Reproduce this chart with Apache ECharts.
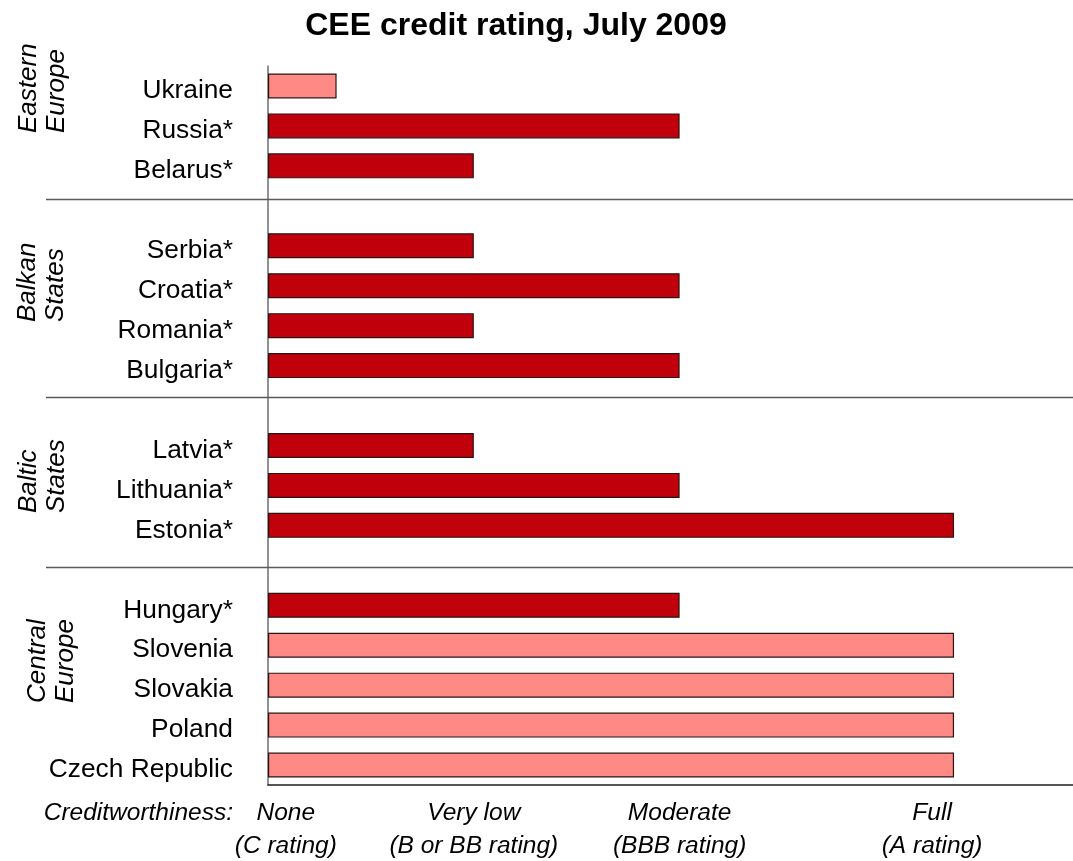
<!DOCTYPE html>
<html>
<head>
<meta charset="utf-8">
<title>CEE credit rating, July 2009</title>
<script src="https://cdn.jsdelivr.net/npm/echarts@6/dist/echarts.min.js"></script>
<style>
  html, body { margin: 0; padding: 0; background: #ffffff; }
  #chart { width: 1073px; height: 861px; }
</style>
</head>
<body>
<div id="chart"></div>
<script>
// Countries per region, top to bottom, with their rating level
// (0 = none, 1.5 = very low, 3 = moderate, 5 = full). "*" marks a
// country whose rating is below full investment grade.
const easternEurope = ['Ukraine', 'Russia*', 'Belarus*'];
const easternRating = [0.5, 3, 1.5];
const balkanStates = ['Serbia*', 'Croatia*', 'Romania*', 'Bulgaria*'];
const balkanRating = [1.5, 3, 1.5, 3];
const balticStates = ['Latvia*', 'Lithuania*', 'Estonia*'];
const balticRating = [1.5, 3, 5];
const centralEurope = ['Hungary*', 'Slovenia', 'Slovakia', 'Poland', 'Czech Republic'];
const centralRating = [3, 5, 5, 5, 5];

const regionNames = ['Eastern\nEurope', 'Balkan\nStates', 'Baltic\nStates', 'Central\nEurope'];

// Creditworthiness scale labels and where they sit on the value axis
const ratingLabels = ['None\n(C rating)', 'Very low\n(B or BB rating)', 'Moderate\n(BBB rating)', 'Full\n(A rating)'];
const ratingLabelAt = [0.13, 1.5, 3, 4.84];

const FONT = '"Liberation Sans", Arial, Helvetica, sans-serif';
const DARK_RED = '#C0000B';
const PINK = '#FF8A85';

// Build the category list with one empty row between regions
const regionCountries = [easternEurope, balkanStates, balticStates, centralEurope];
const regionRatings = [easternRating, balkanRating, balticRating, centralRating];
const categories = [];
const barData = [];
regionCountries.forEach(function (names, r) {
  if (r > 0) {
    categories.push(' '.repeat(r));
    barData.push('-');
  }
  names.forEach(function (name, i) {
    categories.push(name);
    barData.push({
      value: regionRatings[r][i],
      itemStyle: { color: name.indexOf('*') >= 0 ? DARK_RED : PINK }
    });
  });
});

const chart = echarts.init(document.getElementById('chart'), null, { renderer: 'canvas' });

chart.setOption({
  animation: false,
  backgroundColor: '#ffffff',
  title: {
    text: 'CEE credit rating, July 2009',
    left: 511,
    textAlign: 'center',
    top: 5,
    textStyle: { fontFamily: FONT, fontSize: 32, fontWeight: 'bold', color: '#000' }
  },
  grid: { left: 268, right: 0, top: 66, bottom: 76, containLabel: false, outerBoundsMode: 'none' },
  xAxis: {
    type: 'value',
    min: 0,
    max: 5.867,
    splitLine: { show: false },
    axisTick: { show: false },
    axisLine: { show: true, lineStyle: { color: '#1e1e1e', width: 1.5 } },
    axisLabel: {
      customValues: ratingLabelAt,
      formatter: function (v) {
        const i = ratingLabelAt.indexOf(v);
        return i >= 0 ? ratingLabels[i] : '';
      },
      fontFamily: FONT,
      fontSize: 24.5,
      fontStyle: 'italic',
      color: '#000',
      lineHeight: 33,
      margin: 12,
      align: 'center'
    }
  },
  yAxis: {
    type: 'category',
    inverse: true,
    data: categories,
    axisTick: { show: false },
    axisLine: { show: true, lineStyle: { color: '#6e6e6e', width: 1.5 } },
    axisLabel: {
      margin: 35,
      formatter: function (v) { return '{n|' + v + '}'; },
      rich: {
        n: {
          fontFamily: FONT,
          fontSize: 26.3,
          color: '#000',
          padding: [10, 0, 0, 0]
        }
      }
    }
  },
  series: [{
    type: 'bar',
    data: barData,
    barWidth: 25,
    itemStyle: { borderColor: '#2b1414', borderWidth: 1.2 }
  }]
});

// Region dividers (in row units from the top of the plot), region titles
// and the scale caption are drawn relative to the category axis.
const dividerRows = [3.34, 8.28, 12.54];
const regionTitleAt = [[43, 133], [42, 322], [43, 513], [52, 703]];

const c0 = chart.convertToPixel({ yAxisIndex: 0 }, categories[0]);
const c1 = chart.convertToPixel({ yAxisIndex: 0 }, categories[1]);
const step = c1 - c0;
const plotTop = c0 - step / 2;
const lastRow = chart.convertToPixel({ yAxisIndex: 0 }, categories[categories.length - 1]);

const graphics = [];
dividerRows.forEach(function (r) {
  const y = Math.round(plotTop + r * step) + 0.5;
  graphics.push({
    type: 'line',
    shape: { x1: 46, y1: y, x2: 1073, y2: y },
    style: { stroke: '#5a5a5a', lineWidth: 1.5 },
    z: 1
  });
});
regionNames.forEach(function (name, i) {
  graphics.push({
    type: 'text',
    x: regionTitleAt[i][0],
    y: regionTitleAt[i][1],
    rotation: Math.PI / 2,
    style: {
      text: name,
      fontFamily: FONT,
      fontSize: 26,
      fontStyle: 'italic',
      fill: '#000',
      lineHeight: 28,
      align: 'left',
      verticalAlign: 'middle'
    }
  });
});
graphics.push({
  type: 'text',
  x: 233,
  y: lastRow + step / 2 + 12,
  style: {
    text: 'Creditworthiness:',
    fontFamily: FONT,
    fontSize: 24.5,
    fontStyle: 'italic',
    fill: '#000',
    lineHeight: 33,
    align: 'right',
    verticalAlign: 'top'
  }
});

chart.setOption({ graphic: graphics });
</script>
</body>
</html>
